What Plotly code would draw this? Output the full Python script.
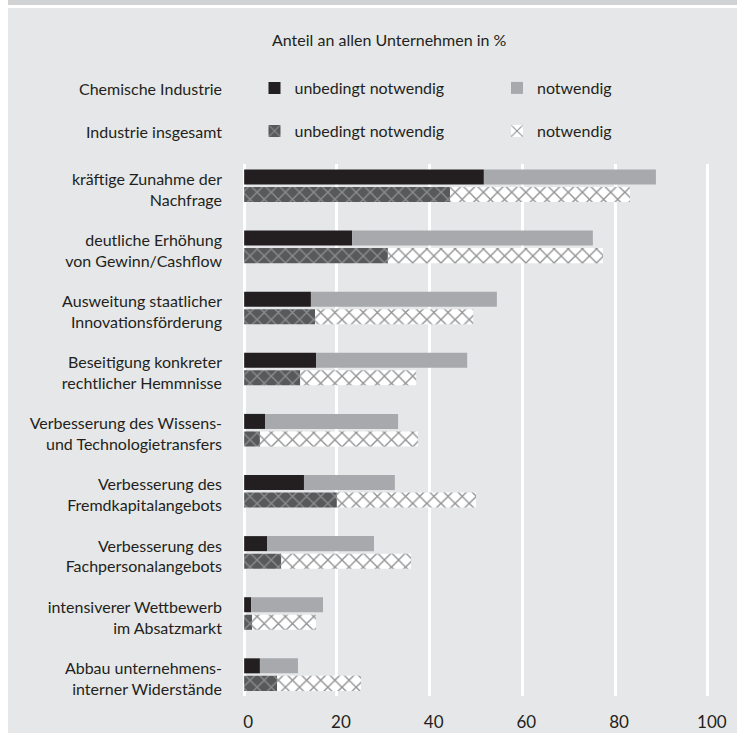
import plotly.graph_objects as go

categories = [
    "kräftige Zunahme der<br>Nachfrage",
    "deutliche Erhöhung<br>von Gewinn/Cashflow",
    "Ausweitung staatlicher<br>Innovationsförderung",
    "Beseitigung konkreter<br>rechtlicher Hemmnisse",
    "Verbesserung des Wissens-<br>und Technologietransfers",
    "Verbesserung des<br>Fremdkapitalangebots",
    "Verbesserung des<br>Fachpersonalangebots",
    "intensiverer Wettbewerb<br>im Absatzmarkt",
    "Abbau unternehmens-<br>interner Widerstände",
]

chem_unbedingt = [51.7, 23.3, 14.4, 15.5, 4.5, 12.9, 5.0, 1.5, 3.4]
chem_notwendig = [37.1, 51.9, 40.1, 32.6, 28.7, 19.6, 23.0, 15.5, 8.2]
ind_unbedingt = [44.4, 31.0, 15.3, 12.1, 3.4, 20.0, 8.0, 1.7, 7.1]
ind_notwendig = [38.8, 46.4, 34.1, 25.0, 34.1, 30.0, 28.0, 13.8, 18.1]

x_ticks = [0, 20, 40, 60, 80, 100]

TXT = "#231f20"
FONT = "Lato"
BG = "#e6e7e8"

W, H = 737, 733
ML, MR, MT, MB = 243, 28, 164, 37
PW, PH = W - ML - MR, H - MT - MB


def px_x(px):
    return (px - ML) / PW


def px_y(py):
    return (H - MB - py) / PH


fig = go.Figure()

fig.add_trace(go.Bar(
    y=categories, x=chem_unbedingt, orientation="h", name="unbedingt notwendig",
    offsetgroup="chem", marker=dict(color="#231f20", line=dict(width=0)),
    legend="legend", showlegend=True,
))
fig.add_trace(go.Bar(
    y=categories, x=chem_notwendig, base=chem_unbedingt, orientation="h", name="notwendig",
    offsetgroup="chem", marker=dict(color="#a7a9ac", line=dict(width=0)),
    legend="legend2", showlegend=True,
))
fig.add_trace(go.Bar(
    y=categories, x=ind_unbedingt, orientation="h", name="unbedingt notwendig",
    offsetgroup="ind",
    marker=dict(color="#58595b", line=dict(width=0),
                pattern=dict(shape="x", bgcolor="#58595b", fgcolor="#8c8d8f",
                             size=10, solidity=0.25, fillmode="replace")),
    legend="legend3", showlegend=True,
))
fig.add_trace(go.Bar(
    y=categories, x=ind_notwendig, base=ind_unbedingt, orientation="h", name="notwendig",
    offsetgroup="ind",
    marker=dict(color="#ffffff", line=dict(width=0),
                pattern=dict(shape="x", bgcolor="#ffffff", fgcolor="#909193",
                             size=10, solidity=0.25, fillmode="replace")),
    legend="legend4", showlegend=True,
))

shapes = [
    dict(type="rect", xref="paper", yref="paper", x0=px_x(0), x1=px_x(8), y0=px_y(H), y1=px_y(0),
         fillcolor="#ffffff", line=dict(width=0), layer="below"),
    dict(type="rect", xref="paper", yref="paper", x0=px_x(8), x1=px_x(W), y0=px_y(8), y1=px_y(0),
         fillcolor="#ffffff", line=dict(width=0), layer="below"),
    dict(type="rect", xref="paper", yref="paper", x0=px_x(8), x1=px_x(W), y0=px_y(5), y1=px_y(0),
         fillcolor="#d1d2d4", line=dict(width=0), layer="below"),
]

annotations = [
    dict(text="Anteil an allen Unternehmen in %", xref="paper", yref="paper",
         x=px_x(389), y=px_y(39), xanchor="center", yanchor="middle", showarrow=False,
         font=dict(size=16, color=TXT, family=FONT)),
    dict(text="Chemische Industrie", xref="paper", yref="paper",
         x=px_x(224), y=px_y(88), xanchor="right", yanchor="middle", showarrow=False,
         font=dict(size=16, color=TXT, family=FONT)),
    dict(text="Industrie insgesamt", xref="paper", yref="paper",
         x=px_x(224), y=px_y(131), xanchor="right", yanchor="middle", showarrow=False,
         font=dict(size=16, color=TXT, family=FONT)),
]

legend_common = dict(
    orientation="h", xref="container", yref="container", xanchor="left", yanchor="middle",
    bgcolor="rgba(0,0,0,0)", font=dict(size=16, color=TXT, family=FONT),
    itemclick=False, itemdoubleclick=False,
)

fig.update_layout(
    width=W, height=H,
    margin=dict(l=ML, r=MR, t=MT, b=MB, pad=0, autoexpand=False),
    paper_bgcolor=BG, plot_bgcolor=BG,
    showlegend=True,
    barmode="group", bargap=0.426, bargroupgap=0.143,
    font=dict(family=FONT, size=16, color=TXT),
    shapes=shapes, annotations=annotations,
    legend=dict(x=254.5 / W, y=1 - 88 / H, **legend_common),
    legend2=dict(x=497 / W, y=1 - 88 / H, **legend_common),
    legend3=dict(x=254.5 / W, y=1 - 131 / H, **legend_common),
    legend4=dict(x=497 / W, y=1 - 131 / H, **legend_common),
    xaxis=dict(range=[-0.25, 100.25], tickvals=x_ticks, ticktext=[str(v) for v in x_ticks],
               showgrid=True, gridcolor="#ffffff", gridwidth=2.5, zeroline=False,
               showline=False, ticks="", ticklabelshift=4, ticklabelstandoff=14,
               automargin=False,
               tickfont=dict(size=17, color=TXT, family=FONT), fixedrange=True),
    yaxis=dict(type="category", categoryorder="array", categoryarray=categories,
               range=[8.35, -0.356], showgrid=False, zeroline=False, showline=False,
               ticks="", ticklabelstandoff=20, ticklabelshift=-4, automargin=False,
               tickfont=dict(size=16, color=TXT, family=FONT), fixedrange=True),
)

fig.write_html(
    "out.html",
    config={"displayModeBar": False},
    post_script="document.body.style.margin='0';document.body.style.overflow='hidden';",
)
